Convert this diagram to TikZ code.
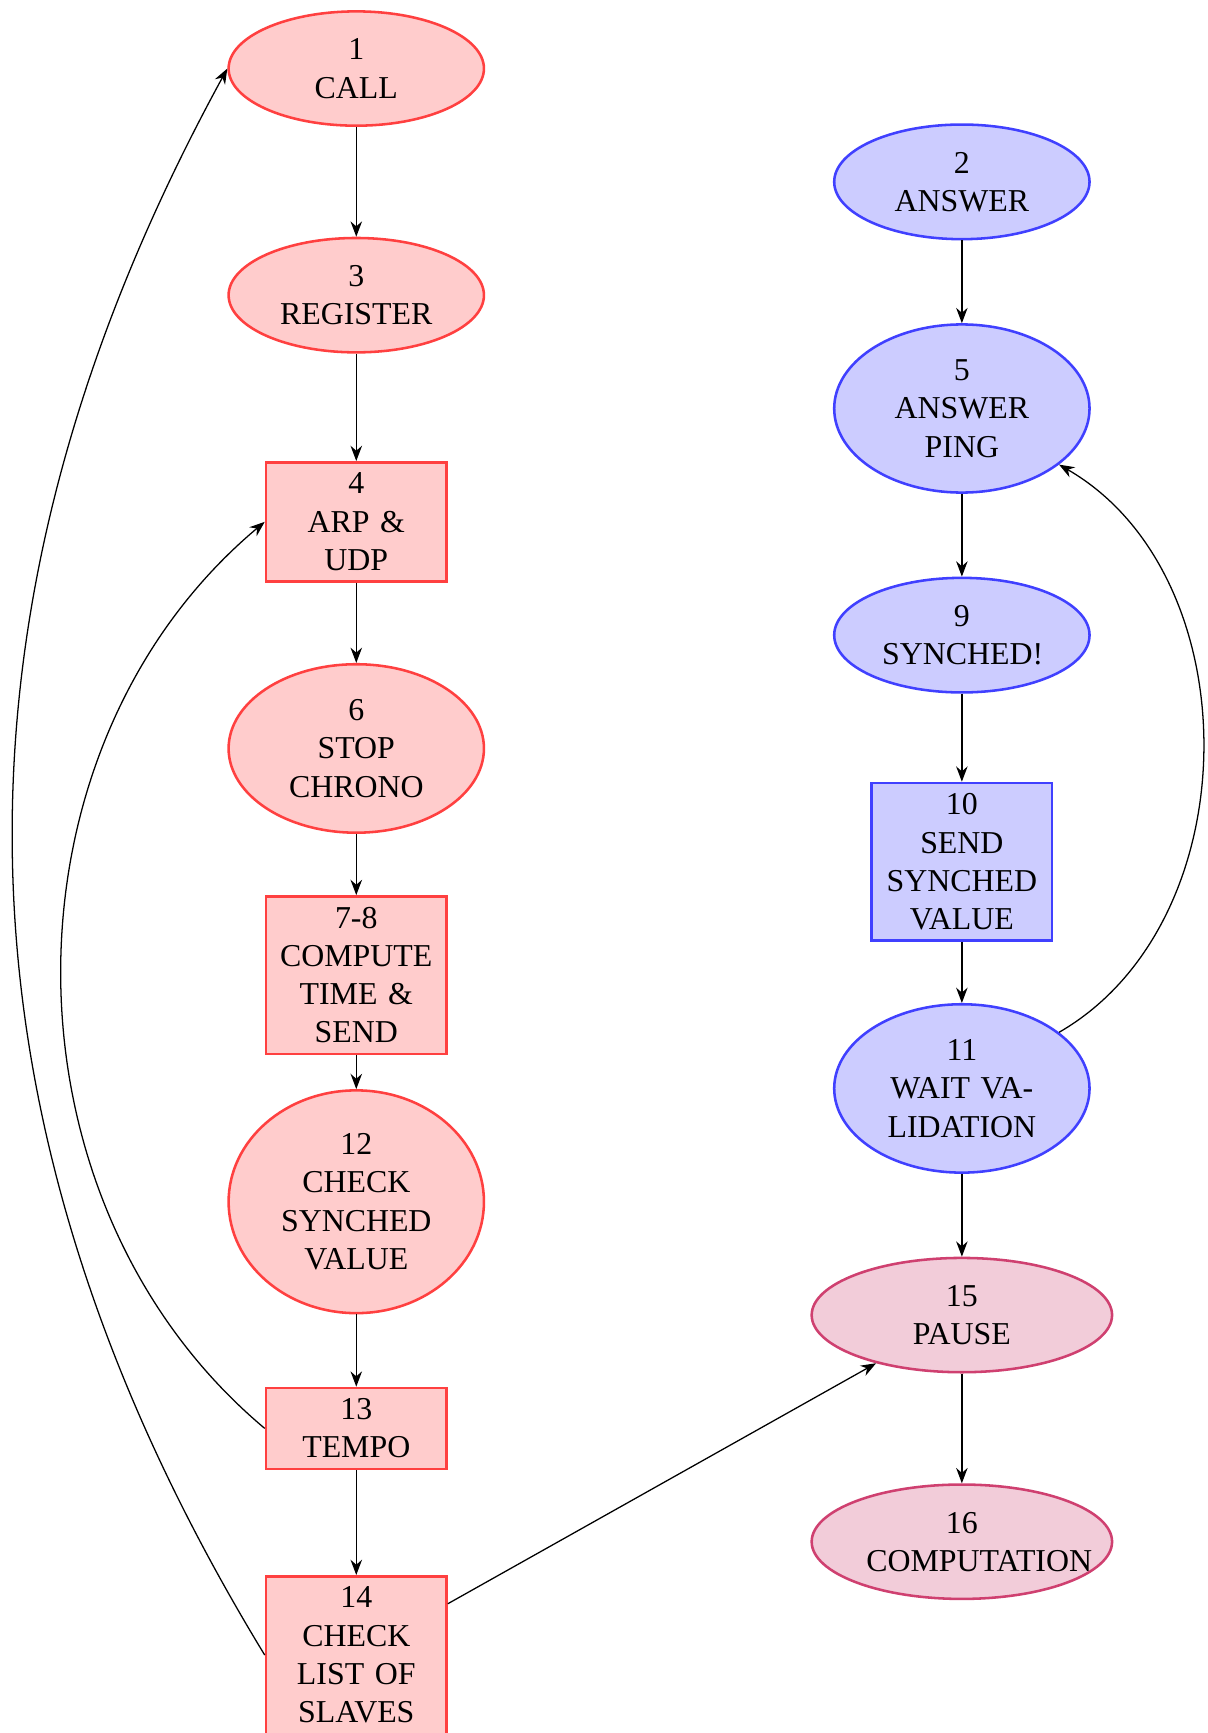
\documentclass[tikz,border=0pt]{standalone}
\usepackage{fontspec}
\setmainfont{Liberation Serif}
\usetikzlibrary{arrows.meta,shapes.geometric}

\begin{document}
\begin{tikzpicture}[>=Stealth,font=\fontsize{10}{12}\selectfont,
  oval/.style={ellipse,draw=#1!75,fill=#1!20,thick,text width=50pt,align=center},
  block/.style={rectangle,draw=#1!75,fill=#1!20,thick,text width=50pt,align=center},
  wideoval/.style={oval=#1,text width=60pt}]
\def\d{2.5}
\def\c{6.68}
\useasboundingbox (-3.93,0.756) rectangle (9.39,-18.36);
% master side
\node[oval=red] (call) at (0,0) {1\\ CALL};
\node[oval=red] (register) at (0,-\d) {3\\ REGISTER};
\node[block=red] (arp) at (0,-2*\d) {4\\ ARP \& UDP};
\node[oval=red] (stop) at (0,-3*\d) {6\\ STOP CHRONO};
\node[block=red] (compute) at (0,-4*\d) {7-8\\ COMPUTE TIME \& SEND};
\node[oval=red] (check) at (0,-5*\d) {12\\ CHECK SYNCHED VALUE};
\node[block=red] (tempo) at (0,-6*\d) {13\\ TEMPO};
\node[block=red] (slaves) at (0,-7*\d) {14\\ CHECK LIST OF SLAVES};
% slave side
\node[oval=blue] (answer) at (\c,-0.5*\d) {2\\ ANSWER};
\node[oval=blue] (ping) at (\c,-1.5*\d) {5\\ ANSWER PING};
\node[oval=blue] (synched) at (\c,-2.5*\d) {9\\ SYNCHED!};
\node[block=blue] (send) at (\c,-3.5*\d) {10\\ SEND SYNCHED VALUE};
\node[oval=blue] (wait) at (\c,-4.5*\d) {11\\ WAIT VA\-LIDATION};
\node[wideoval=purple] (pause) at (\c,-5.5*\d) {15\\ PAUSE};
\node[wideoval=purple] (computation) at (\c,-6.5*\d) {16\\ COMPUTATION};
\foreach \a/\b in {call/register,register/arp,arp/stop,stop/compute,compute/check,check/tempo,tempo/slaves,answer/ping,ping/synched,synched/send,send/wait,wait/pause,pause/computation} \draw[->] (\a) -- (\b);
\draw[->] (slaves.west) to[bend left=30] (call.west);
\draw[->] (tempo.west) to[bend left=50] (arp.west);
\draw[->] (wait) to[bend right=60] (ping);
\draw[->] (slaves) -- (pause);
\end{tikzpicture}
\end{document}
